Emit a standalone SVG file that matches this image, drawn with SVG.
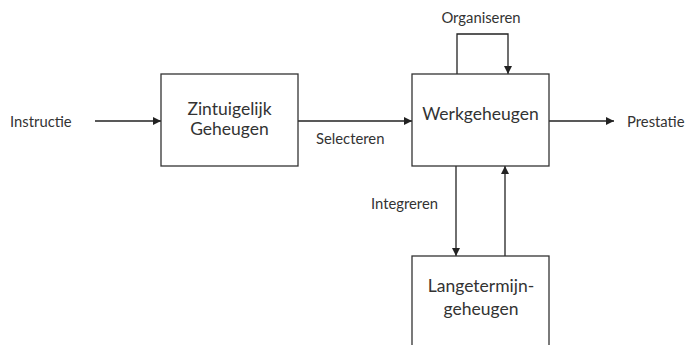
<svg xmlns="http://www.w3.org/2000/svg" width="687" height="345" viewBox="0 0 687 345">
<style>
text{font-family:Lato,"Open Sans",sans-serif;fill:#333;}
.s{font-size:14.8px;}
.b{font-size:17.5px;text-anchor:middle;}
.box{fill:#fff;stroke:#333;stroke-width:1.3;}
.c{fill:none;stroke:#222;stroke-width:1.3;}
</style>
<defs>
<marker id="a" viewBox="0 0 10 10" refX="10" refY="5" markerWidth="12" markerHeight="8" markerUnits="userSpaceOnUse" orient="auto"><path d="M0,0L10,5L0,10z" fill="#222"/></marker>
</defs>
<rect width="687" height="345" fill="#fff"/>
<g id="connectors">
<path class="c" d="M95,121H161" marker-end="url(#a)"/>
<path class="c" d="M298,121H412" marker-end="url(#a)"/>
<path class="c" d="M457,74V34H508V74" marker-end="url(#a)"/>
<path class="c" d="M549,121H614" marker-end="url(#a)"/>
<path class="c" d="M456,166V256" marker-end="url(#a)"/>
<path class="c" d="M505,256V166" marker-end="url(#a)"/>
</g>
<g id="instructie"><text class="s" x="10" y="127">Instructie</text></g>
<g id="zintuigelijk"><rect class="box" x="161" y="74" width="137" height="92"/><text class="b" x="229.5" y="115">Zintuigelijk</text><text class="b" x="229.5" y="135">Geheugen</text></g>
<g id="werkgeheugen"><rect class="box" x="412" y="74" width="137" height="92"/><text class="b" x="480.5" y="120">Werkgeheugen</text></g>
<g id="langetermijn"><rect class="box" x="412" y="256" width="137" height="100"/><text class="b" x="481" y="292">Langetermijn-</text><text class="b" x="481" y="315">geheugen</text></g>
<g id="prestatie"><text class="s" x="627" y="127">Prestatie</text></g>
<g id="labels">
<text class="s" x="316" y="144">Selecteren</text>
<text class="s" x="481" y="23" text-anchor="middle">Organiseren</text>
<text class="s" x="371" y="209">Integreren</text>
</g>
</svg>
